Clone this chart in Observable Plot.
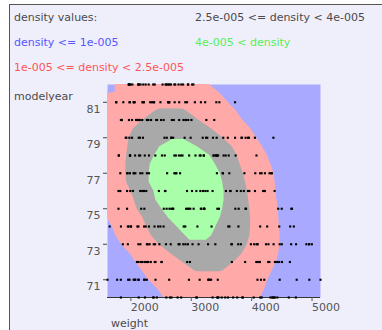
<!DOCTYPE html>
<html><head><meta charset="utf-8">
<script src="https://cdn.jsdelivr.net/npm/d3@7"></script>
<script src="https://cdn.jsdelivr.net/npm/@observablehq/plot@0.6"></script>
<style>
html,body{margin:0;padding:0;background:#fff;}
#wrap{position:relative;width:382px;height:330px;overflow:hidden;font-family:"DejaVu Sans",sans-serif;font-size:11px;}
#box{position:absolute;left:9px;top:4px;width:400px;height:340px;background:#efeffb;border-left:1px solid #555;border-top:1px solid #555;}
.lg{position:absolute;white-space:nowrap;line-height:1;}
#chart{position:absolute;left:0;top:0;}
</style>
</head><body>
<div id="wrap">
  <div id="box"></div>
  <div class="lg" style="left:14px;top:12px;color:#4a4a4a">density values:</div>
  <div class="lg" style="left:195px;top:12px;color:#4a4a4a">2.5e-005 &lt;= density &lt; 4e-005</div>
  <div class="lg" style="left:14px;top:37px;color:#5555ff">density &lt;= 1e-005</div>
  <div class="lg" style="left:195px;top:37px;color:#55ee55">4e-005 &lt; density</div>
  <div class="lg" style="left:14px;top:62px;color:#ff5555">1e-005 &lt;= density &lt; 2.5e-005</div>
  <div class="lg" style="left:14px;top:91px;color:#4a4a4a">modelyear</div>
  <div class="lg" style="left:111px;top:318px;color:#4a4a4a">weight</div>
  <div id="chart"></div>
</div>
<script>
// tick values
const xTicks = [2000, 3000, 4000, 5000];
const yTicks = [71, 73, 75, 77, 79, 81];

const years = [70, 71, 72, 73, 74, 75, 76, 77, 78, 79, 80, 81, 82];
const w70 = [3504,3693,3436,3433,3449,4341,4354,4312,4425,3850,3090,4142,4034,4166,3850,3563,3609,3353,3761,3086,2372,2833,2774,2587,2130,1835,2672,2430,2375,2234,2648,4615,4376,4382,4732];
const w71 = [2130,2264,2228,2046,2634,3439,3329,3302,3288,4209,4464,4154,4096,4955,4746,5140,2962,2408,3282,3139,2220,2123,2074,2065,1773,1613,1834,1955,1978];
const w72 = [2278,2126,2254,2408,2226,4274,4385,4135,4129,3672,4633,4502,4456,4422,2330,3892,4098,4294,4077,2933,2511,2979,2189,2395,2288,2506,2164,2100];
const w73 = [4100,3672,3988,4042,3777,4952,4464,4363,4237,4735,4951,3821,3121,3278,2945,3021,2904,1950,4997,4906,4654,4499,2789,2279,2401,2379,2124,2310,2472,2265,4082,4278,1867,2158,2582,2868,3399,2660,2807,3664];
const w74 = [3102,2875,2901,3336,1950,2451,1836,2542,3781,3632,3613,4141,4699,4457,4638,4257,2219,1963,2300,1649,2003,2125,2108,2246,2489,2391,2000];
const w75 = [3211,3459,3432,3158,4668,4440,4498,4657,3907,3897,3730,3785,3039,3221,3169,2171,2639,2914,2592,2702,2223,2545,2984,1937,3211,2694,2957,2945,2671,1795];
const w76 = [2464,2220,2572,2255,2202,4215,4190,3962,4215,3233,3353,3012,3085,2035,2164,1937,1795,3651,3574,3645,3193,1825,1990,2155,2565,3150,3940,3270,2930,3820,4380,4055,3870,3755];
const w77 = [2045,2155,1825,2300,1945,3880,4060,4140,4295,3520,3425,3630,3525,4220,4165,4325,4335,1940,2740,2265,2755,2051,2075,1985,2190,2815,2600,2720];
const w78 = [1985,1800,1985,2070,1800,3365,3735,3570,3535,3155,2965,2720,3430,3210,3380,3070,3620,3410,3425,3445,3205,4080,2155,2560,2300,2230,2515,2745,2855,2405,2830,3140,2795,3410,1990,2135];
const w79 = [3245,2990,2890,3265,3360,3840,3725,3955,3830,4360,4054,3605,3940,1925,1975,1915,2670,3530,3900,3190,3420,2200,2150,2020,2130,2670,2595,2700,2556];
const w80 = [2144,1968,2120,2019,2678,2870,3003,3381,2188,2711,2542,2434,2265,2110,2800,2110,2085,2335,2950,3250,1850,1835,2145,1845,2910,2420,2500,2905,2290];
const w81 = [2490,2635,2620,2725,2385,1755,1875,1760,2065,1975,2050,1985,2215,2045,2380,2190,2320,2210,2350,2615,2635,3230,2800,3160,2900,2930,3415,3725,3060,3465];
const w82 = [2605,2640,2395,2575,2525,2735,2865,3035,1980,2025,1970,2125,2125,2160,2205,2245,1965,1965,1995,2945,3015,2585,2835,2665,2370,2950,2790,2130,2295,2625,2720];
const weightsByYear = [w70,w71,w72,w73,w74,w75,w76,w77,w78,w79,w80,w81,w82];

// density bands: boundaries (weight) of each band along model year
const pinkYear  = [82,81.55,81.5,81,80.5,80,79.5,79,78.5,78,77.5,77,76.5,76,75.5,75,74.5,74,73.5,73,72.5,72,71.5,71,70.5,70];
const pinkLeft  = [1740,1740,1613,1613,1613,1613,1613,1613,1613,1613,1613,1613,1613,1613,1613,1613,1613,1690,1750,1840,1980,2080,2190,2290,2440,2540];
const pinkRight = [3300,3460,3480,3610,3750,3850,3990,4080,4180,4260,4320,4370,4390,4400,4420,4440,4450,4460,4470,4470,4450,4410,4340,4270,4220,4150];

const grayYear  = [80.62,80.5,80,79.5,79,78.5,78,77.5,77,76.5,76,75.5,75,74.5,74,73.5,73,72.5,72,71.5,71.45];
const grayLeft  = [2470,2400,2200,2040,1970,1950,1930,1917,1917,1930,2000,2055,2100,2200,2260,2340,2460,2650,2850,3060,3100];
const grayRight = [2860,2930,3120,3340,3520,3680,3760,3810,3860,3900,3930,3950,3970,3983,3983,3970,3930,3850,3710,3520,3480];

const greenYear  = [78.9,78.5,78,77.5,77,76.5,76,75.5,75,74.5,74,73.5,73.22];
const greenLeft  = [2690,2480,2390,2320,2303,2303,2380,2413,2510,2620,2760,2900,2980];
const greenRight = [2880,3100,3310,3400,3480,3520,3543,3543,3520,3480,3410,3340,3250];

const band = (ys, l, r) => ys.map((y, i) => ({y, x1: l[i], x2: r[i]}));
const cars = years.flatMap((yr, i) => weightsByYear[i].map(w => ({weight: w, modelyear: yr})));

const BLUE = "#a9a9ff", PINK = "#ffa9a9", GRAY = "#a9a9a9", GREEN = "#a9ffa9";

const chart = Plot.plot({
  width: 382, height: 330,
  marginLeft: 107, marginRight: 62, marginTop: 84, marginBottom: 33,
  x: {domain: [1613, 5140]},
  y: {domain: [70, 82]},
  style: {background: "transparent", fontFamily: "DejaVu Sans", fontSize: "11px", overflow: "visible"},
  marks: [
    Plot.frame({fill: BLUE}),
    Plot.areaX(band(pinkYear, pinkLeft, pinkRight), {y: "y", x1: "x1", x2: "x2", fill: PINK}),
    Plot.areaX(band(grayYear, grayLeft, grayRight), {y: "y", x1: "x1", x2: "x2", fill: GRAY}),
    Plot.areaX(band(greenYear, greenLeft, greenRight), {y: "y", x1: "x1", x2: "x2", fill: GREEN}),
    Plot.ruleY([70], {stroke: "#333"}),
    Plot.dot(cars, {x: "weight", y: "modelyear", symbol: "square", r: 1.2, fill: "#000"}),
    Plot.axisX(xTicks, {tickSize: 4, tickPadding: 2, textAnchor: "start", tickFormat: "d", color: "#555", label: null}),
    Plot.axisY(yTicks, {tickSize: 4, tickFormat: () => null, color: "#444", label: null}),
    Plot.axisY(yTicks, {tickSize: 0, tickPadding: 7, dy: 7, tickFormat: "d", color: "#555", label: null})
  ]
});
document.getElementById("chart").appendChild(chart);
</script>
</body></html>
